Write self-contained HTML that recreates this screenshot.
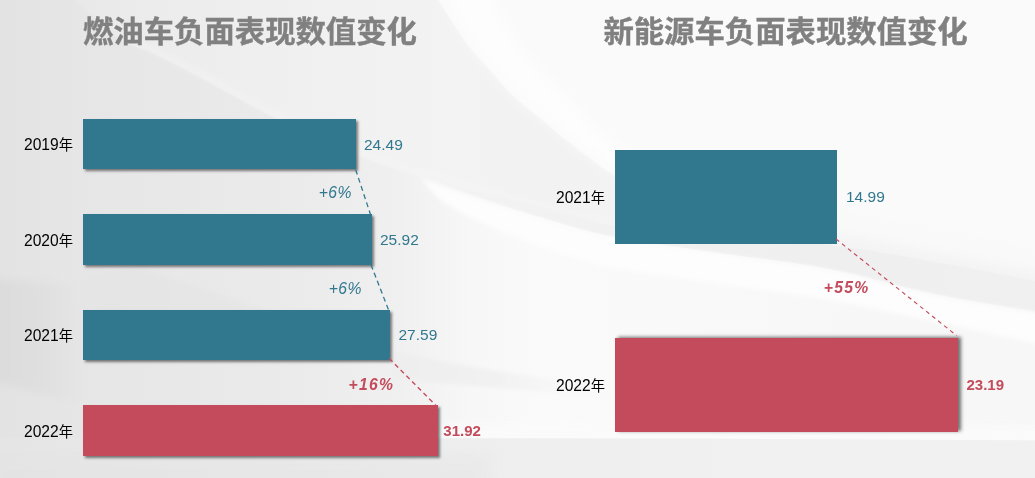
<!DOCTYPE html>
<html lang="zh-CN">
<head>
<meta charset="utf-8">
<title>负面表现数值变化</title>
<style>
html,body{margin:0;padding:0;}
body{width:1035px;height:478px;overflow:hidden;position:relative;background:#f0f0f0;font-family:"Liberation Sans","Noto Sans CJK SC",sans-serif;}
#bg{position:absolute;left:0;top:0;width:1035px;height:478px;}
.title{position:absolute;transform:scaleY(0.962);transform-origin:50% 45%;font-weight:bold;color:#808080;-webkit-text-stroke:0.4px #808080;font-size:30.37px;line-height:40px;white-space:nowrap;letter-spacing:0;}
.bar{position:absolute;}
.teal{background:#31788e;}
.red{background:#c44b5c;}
.sh{box-shadow:2px 2px 2.5px rgba(0,0,0,.5);}
.sh2{box-shadow:3px -1px 3.5px rgba(0,0,0,.55);}
.lab{position:absolute;color:#000;font-size:15.6px;line-height:20px;white-space:nowrap;}
.lab span{font-size:14.3px;}
.val{position:absolute;font-size:15.5px;line-height:20px;white-space:nowrap;}
.pct{position:absolute;font-family:"Liberation Sans",sans-serif;font-style:italic;font-size:15.7px;line-height:20px;white-space:nowrap;letter-spacing:0.5px;}
.pct.cr{letter-spacing:1.3px;}
.ct{color:#31788f;}
.cr{color:#c44b5c;font-weight:bold;}
.val.cr{font-size:15px;}
#lines{position:absolute;left:0;top:0;width:1035px;height:478px;}
</style>
</head>
<body>
<svg id="bg" viewBox="0 0 1035 478" preserveAspectRatio="none">
  <defs>
    <linearGradient id="g0" gradientUnits="userSpaceOnUse" x1="0" y1="0" x2="1035" y2="0"><stop offset="0.0000" stop-color="#e3e3e3"/><stop offset="0.0802" stop-color="#e6e6e6"/><stop offset="0.2899" stop-color="#ebebeb"/><stop offset="0.3865" stop-color="#f0f0f0"/><stop offset="0.4541" stop-color="#f7f7f7"/><stop offset="0.5217" stop-color="#fafafa"/><stop offset="0.6763" stop-color="#f9f9f9"/><stop offset="0.8696" stop-color="#f7f7f7"/><stop offset="1.0000" stop-color="#f7f7f7"/></linearGradient>
    <linearGradient id="gW" gradientUnits="userSpaceOnUse" x1="0" y1="0" x2="1035" y2="0"><stop offset="0.0676" stop-color="#e8e8e8"/><stop offset="0.1449" stop-color="#ececec"/><stop offset="0.2899" stop-color="#f0f0f0"/><stop offset="0.4348" stop-color="#f3f3f3"/><stop offset="0.5411" stop-color="#f2f2f2"/><stop offset="0.5990" stop-color="#f3f3f3"/><stop offset="0.8019" stop-color="#f4f4f4"/><stop offset="1.0000" stop-color="#f3f3f3"/></linearGradient>
    <linearGradient id="gZ" gradientUnits="userSpaceOnUse" x1="0" y1="0" x2="1035" y2="0"><stop offset="0.4058" stop-color="#f4f4f4"/><stop offset="0.4831" stop-color="#f2f2f2"/><stop offset="0.5942" stop-color="#f1f1f1"/><stop offset="0.8019" stop-color="#efefef"/><stop offset="1.0000" stop-color="#f0f0f0"/></linearGradient>
    <linearGradient id="gB" gradientUnits="userSpaceOnUse" x1="0" y1="0" x2="1035" y2="0"><stop offset="0.0000" stop-color="#e5e5e5"/><stop offset="0.0802" stop-color="#e7e7e7"/><stop offset="0.2899" stop-color="#ebebeb"/><stop offset="0.4444" stop-color="#eeeeee"/><stop offset="0.7729" stop-color="#f1f1f1"/><stop offset="1.0000" stop-color="#f1f1f1"/></linearGradient>
    <linearGradient id="gD" gradientUnits="userSpaceOnUse" x1="0" y1="0" x2="92" y2="0"><stop offset="0.0000" stop-color="#dcdcdc"/><stop offset="0.4348" stop-color="#dfdfdf"/><stop offset="0.7609" stop-color="#e3e3e3" stop-opacity="0.8"/><stop offset="1.0000" stop-color="#e7e7e7" stop-opacity="0"/></linearGradient>
    <linearGradient id="gE" gradientUnits="userSpaceOnUse" x1="60" y1="0" x2="400" y2="0"><stop offset="0.0000" stop-color="#e5e5e5" stop-opacity="0"/><stop offset="0.1176" stop-color="#e5e5e5" stop-opacity="0.9"/><stop offset="0.5882" stop-color="#e7e7e7" stop-opacity="0.9"/><stop offset="1.0000" stop-color="#eeeeee" stop-opacity="0.6"/></linearGradient>
    <linearGradient id="gF" gradientUnits="userSpaceOnUse" x1="392" y1="0" x2="620" y2="0"><stop offset="0.0000" stop-color="#eeeeee" stop-opacity="0.9"/><stop offset="0.4737" stop-color="#f1f1f1" stop-opacity="0.9"/><stop offset="1.0000" stop-color="#f6f6f6" stop-opacity="0"/></linearGradient>
    <filter id="b1" x="-5%" y="-5%" width="110%" height="110%"><feGaussianBlur stdDeviation="0.7"/></filter>
    <filter id="b2" x="-10%" y="-10%" width="120%" height="120%"><feGaussianBlur stdDeviation="2"/></filter>
    <filter id="b4" x="-10%" y="-20%" width="120%" height="140%"><feGaussianBlur stdDeviation="4"/></filter>
    <filter id="b6" x="-10%" y="-20%" width="120%" height="140%"><feGaussianBlur stdDeviation="6"/></filter>
    <filter id="b10" x="-20%" y="-30%" width="140%" height="160%"><feGaussianBlur stdDeviation="10"/></filter>
  </defs>
  <rect x="0" y="0" width="1035" height="478" fill="url(#g0)"/>
  <path d="M432.0,-10.0 C433.0,-8.3 432.2,-9.0 438.0,0.0 C443.8,9.0 458.3,32.3 467.0,44.0 C475.7,55.7 482.5,61.5 490.0,70.0 C497.5,78.5 503.5,86.8 512.0,95.0 C520.5,103.2 532.2,111.7 541.0,119.0 C549.8,126.3 556.8,132.5 565.0,139.0 C573.2,145.5 581.8,152.0 590.0,158.0 C598.2,164.0 610.0,172.2 614.0,175.0 C621.7,178.2 642.3,189.0 660.0,194.0 C677.7,199.0 691.7,201.3 720.0,205.0 C748.3,208.7 794.2,210.8 830.0,216.0 C865.8,221.2 899.2,228.8 935.0,236.0 C970.8,243.2 1026.7,255.2 1045.0,259.0 L1045,-10 Z" fill="#fafafa" filter="url(#b1)"/>
  <path d="M64.0,-10.0 C73.0,-2.0 103.7,27.7 118.0,38.0 C132.3,48.3 138.7,46.7 150.0,52.0 C161.3,57.3 165.2,59.0 186.0,70.0 C206.8,81.0 246.5,103.8 275.0,118.0 C303.5,132.2 332.8,145.2 357.0,155.0 C381.2,164.8 399.5,169.3 420.0,176.5 C440.5,183.7 458.3,190.8 480.0,198.0 C501.7,205.2 527.5,213.5 550.0,220.0 C572.5,226.5 586.7,231.5 615.0,237.0 C643.3,242.5 684.2,247.7 720.0,253.0 C755.8,258.3 794.2,262.2 830.0,269.0 C865.8,275.8 899.2,286.7 935.0,294.0 C970.8,301.3 1026.7,309.8 1045.0,313.0 L1045.0,259.0 C1026.7,255.2 970.8,243.2 935.0,236.0 C899.2,228.8 865.8,221.2 830.0,216.0 C794.2,210.8 748.3,208.7 720.0,205.0 C691.7,201.3 677.7,199.0 660.0,194.0 C642.3,189.0 625.7,181.0 614.0,175.0 C602.3,169.0 598.2,164.0 590.0,158.0 C581.8,152.0 573.2,145.5 565.0,139.0 C556.8,132.5 549.8,126.3 541.0,119.0 C532.2,111.7 520.5,103.2 512.0,95.0 C503.5,86.8 497.5,78.5 490.0,70.0 C482.5,61.5 475.7,55.7 467.0,44.0 C458.3,32.3 443.8,9.0 438.0,0.0 C432.2,-9.0 433.0,-8.3 432.0,-10.0 Z" fill="url(#gW)" filter="url(#b1)"/>
  <path d="M118.0,30.0 C129.3,35.3 159.8,48.7 186.0,62.0 C212.2,75.3 246.5,95.8 275.0,110.0 C303.5,124.2 332.8,137.3 357.0,147.0 C381.2,156.7 399.5,161.7 420.0,168.0 C440.5,174.3 458.3,179.2 480.0,185.0 C501.7,190.8 527.5,197.3 550.0,203.0 C572.5,208.7 604.2,216.3 615.0,219.0 L615.0,226.0 C604.2,223.3 572.5,215.7 550.0,210.0 C527.5,204.3 501.7,197.7 480.0,192.0 C458.3,186.3 440.5,182.2 420.0,176.0 C399.5,169.8 381.2,164.7 357.0,155.0 C332.8,145.3 303.5,132.2 275.0,118.0 C246.5,103.8 212.2,83.3 186.0,70.0 C159.8,56.7 129.3,43.3 118.0,38.0 Z" fill="#f7f7f7" opacity="0.3" filter="url(#b2)"/>
  <path d="M640.0,180.0 C653.3,182.7 688.3,191.3 720.0,196.0 C751.7,200.7 794.2,202.7 830.0,208.0 C865.8,213.3 899.2,221.0 935.0,228.0 C970.8,235.0 1026.7,246.3 1045.0,250.0 L1045.0,274.0 C1026.7,270.3 970.8,259.0 935.0,252.0 C899.2,245.0 865.8,237.3 830.0,232.0 C794.2,226.7 751.7,224.7 720.0,220.0 C688.3,215.3 653.3,206.7 640.0,204.0 Z" fill="#f9f9f9" filter="url(#b6)"/>
  <path d="M420.0,176.0 C430.0,178.7 458.3,186.3 480.0,192.0 C501.7,197.7 527.5,204.3 550.0,210.0 C572.5,215.7 586.7,221.7 615.0,226.0 C643.3,230.3 684.2,232.8 720.0,236.0 C755.8,239.2 794.2,240.7 830.0,245.0 C865.8,249.3 899.2,255.7 935.0,262.0 C970.8,268.3 1026.7,279.5 1045.0,283.0 L1045.0,313.0 C1026.7,309.8 970.8,301.3 935.0,294.0 C899.2,286.7 865.8,275.8 830.0,269.0 C794.2,262.2 755.8,258.3 720.0,253.0 C684.2,247.7 643.3,242.5 615.0,237.0 C586.7,231.5 572.5,226.5 550.0,220.0 C527.5,213.5 501.7,205.2 480.0,198.0 C458.3,190.8 430.0,180.1 420.0,176.5 Z" fill="url(#gZ)" filter="url(#b1)"/>
  <path d="M420.0,178.0 C430.0,181.6 458.3,192.2 480.0,199.5 C501.7,206.8 527.5,215.0 550.0,221.5 C572.5,228.0 586.7,233.0 615.0,238.5 C643.3,244.0 684.2,249.2 720.0,254.5 C755.8,259.8 794.2,263.7 830.0,270.5 C865.8,277.3 899.2,288.2 935.0,295.5 C970.8,302.8 1026.7,311.3 1045.0,314.5 L1045.0,345.0 C1026.7,341.2 970.8,329.5 935.0,322.0 C899.2,314.5 865.8,306.3 830.0,300.0 C794.2,293.7 755.8,289.3 720.0,284.0 C684.2,278.7 643.3,273.7 615.0,268.0 C586.7,262.3 572.5,257.7 550.0,250.0 C527.5,242.3 498.3,230.3 480.0,222.0 C461.7,213.7 446.7,203.7 440.0,200.0 Z" fill="#fdfdfd" filter="url(#b2)"/>
  <path d="M442.0,-10.0 C446.8,-1.0 458.8,26.8 471.0,44.0 C483.2,61.2 502.7,80.5 515.0,93.0 C527.3,105.5 532.2,108.5 545.0,119.0 C557.8,129.5 574.5,144.8 592.0,156.0 C609.5,167.2 628.7,179.2 650.0,186.0 C671.3,192.8 708.3,195.2 720.0,197.0 L720.0,180.0 C710.0,177.5 678.3,171.7 660.0,165.0 C641.7,158.3 624.2,150.0 610.0,140.0 C595.8,130.0 586.7,116.7 575.0,105.0 C563.3,93.3 550.8,82.5 540.0,70.0 C529.2,57.5 518.3,43.3 510.0,30.0 C501.7,16.7 493.3,-3.3 490.0,-10.0 Z" fill="#fdfdfd" filter="url(#b6)"/>
  <path d="M-10,278 C20,280 50,283 74,286 L90,406 C50,396 20,389 -10,382 Z" fill="url(#gD)" filter="url(#b4)"/>
  <path d="M60,282 C90,274 115,270 137,268 C180,280 220,294 260,308 C310,324 355,340 400,353 L400,362 L60,362 Z" fill="url(#gE)" filter="url(#b2)"/>
  <path d="M392,351 C470,368 540,378 620,388 L620,397 C540,392 470,386 392,378 Z" fill="url(#gF)" filter="url(#b2)"/>
  <path d="M440,424 L1045,426 L1045,445 L440,445 Z" fill="#fbfbfb" opacity="0.8" filter="url(#b4)"/>
  <path d="M-10,438.300 L455,438.300 C650,438.300 850,439 1045,440.500 L1045,490 L-10,490 Z" fill="url(#gB)"/>
  <rect x="-10" y="455" width="500" height="40" fill="#e2e2e2" opacity="0.35" filter="url(#b6)"/>
</svg>

<div class="title" style="left:83px;top:12.300px;">燃油车负面表现数值变化</div>
<div class="title" style="left:603.400px;top:12.300px;">新能源车负面表现数值变化</div>


<div class="bar teal sh" style="left:83px;top:118.800px;width:273px;height:50.600px;"></div>
<div class="bar teal sh" style="left:83px;top:214.400px;width:289px;height:50.400px;"></div>
<div class="bar teal sh" style="left:83px;top:309.800px;width:306.900px;height:50px;"></div>
<div class="bar red sh" style="left:83px;top:405.200px;width:355px;height:50.500px;"></div>

<div class="bar teal" style="left:615px;top:149.800px;width:222px;height:93.800px;"></div>
<div class="bar red sh2" style="left:615px;top:338px;width:343px;height:93.900px;"></div>

<svg id="lines" viewBox="0 0 1035 478">
  <g fill="none" stroke-width="1.3" stroke-dasharray="5 3.600">
    <line x1="355.700" y1="169.700" x2="370.500" y2="214.500" stroke="#31788f"/>
    <line x1="371" y1="264.800" x2="388.500" y2="309.800" stroke="#31788f"/>
    <line x1="389.200" y1="358.500" x2="435.700" y2="405.200" stroke="#c44b5c" stroke-width="1.35" stroke-dasharray="4.700 3.400"/>
    <line x1="836" y1="239" x2="956.500" y2="335.500" stroke="#c44b5c" stroke-width="1.15" stroke-dasharray="4.100 3.595"/>
  </g>
</svg>
<div class="lab" style="left:24px;top:135.000px;">2019<span>年</span></div>
<div class="lab" style="left:24px;top:230.500px;">2020<span>年</span></div>
<div class="lab" style="left:24px;top:326.100px;">2021<span>年</span></div>
<div class="lab" style="left:24px;top:421.700px;">2022<span>年</span></div>
<div class="lab" style="left:556px;top:187.800px;">2021<span>年</span></div>
<div class="lab" style="left:556px;top:375.700px;">2022<span>年</span></div>

<div class="val ct" style="left:364px;top:134.500px;">24.49</div>
<div class="val ct" style="left:380px;top:230.100px;">25.92</div>
<div class="val ct" style="left:398.500px;top:325.200px;">27.59</div>
<div class="val cr" style="left:443.300px;top:421.000px;">31.92</div>
<div class="val ct" style="left:846px;top:187.400px;">14.99</div>
<div class="val cr" style="left:966.500px;top:375.400px;">23.19</div>

<div class="pct ct" style="left:318.700px;top:182.500px;">+6%</div>
<div class="pct ct" style="left:328.700px;top:278.500px;">+6%</div>
<div class="pct cr" style="left:348.500px;top:374.700px;">+16%</div>
<div class="pct cr" style="left:823.700px;top:277.700px;">+55%</div>
</body>
</html>
